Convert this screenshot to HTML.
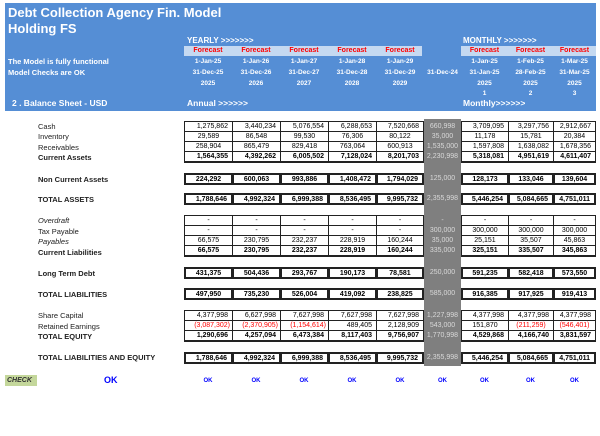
<!DOCTYPE html>
<html><head><meta charset="utf-8"><style>
*{margin:0;padding:0;box-sizing:border-box}
body{width:600px;height:436px;background:#fff;position:relative;overflow:hidden;font-family:"Liberation Sans",Arial,sans-serif}
.a{position:absolute;white-space:nowrap}
.hdr{left:5px;top:3px;width:591px;height:108px;background:#558ed5}
.w{color:#fff;font-weight:bold}
.band{background:#c5d9f1;height:10px;top:46px}
.fc{color:#f00;font-weight:bold;font-size:7px;text-align:center;top:47px}
.hc{color:#fff;font-weight:bold;font-size:6.5px;text-align:center}
.lbl{left:38px;font-size:7.5px;color:#222}
.b{font-weight:bold}
.i{font-style:italic}
.c{border:1px solid #222;font-size:7px;text-align:right;padding-right:4px;line-height:9px;height:11px;font-family:"Liberation Sans",Arial,sans-serif}
.g{background:#7f7f7f;left:424px;width:37px;top:119px;height:247px}
.gc{color:#d9d9d9;border:none;text-align:center;padding:0;line-height:11px}
.ctr{text-align:center;padding:0}
.r{color:#f00}
.ok{color:#00f;font-weight:bold;font-size:6px;text-align:center;top:378px}
</style></head><body>
<div class="a hdr"></div>
<div class="a w" style="left:8px;top:5px;font-size:13px">Debt Collection Agency Fin. Model</div>
<div class="a w" style="left:8px;top:21px;font-size:13px">Holding FS</div>
<div class="a w" style="left:8px;top:57px;font-size:7.5px">The Model is fully functional</div>
<div class="a w" style="left:8px;top:68px;font-size:7.5px">Model Checks are OK</div>
<div class="a w" style="left:12px;top:98px;font-size:8.5px">2 . Balance Sheet - USD</div>
<div class="a w" style="left:187px;top:36px;font-size:8px">YEARLY &gt;&gt;&gt;&gt;&gt;&gt;&gt;</div>
<div class="a w" style="left:187px;top:98px;font-size:8.5px">Annual &gt;&gt;&gt;&gt;&gt;&gt;</div>
<div class="a w" style="left:463px;top:36px;font-size:8px">MONTHLY &gt;&gt;&gt;&gt;&gt;&gt;&gt;</div>
<div class="a w" style="left:463px;top:98px;font-size:8.5px">Monthly&gt;&gt;&gt;&gt;&gt;&gt;</div>
<div class="a band" style="left:184px;width:238px"></div>
<div class="a band" style="left:461px;width:135px"></div>

<div class="a fc" style="left:184px;width:48px">Forecast</div><div class="a fc" style="left:232px;width:48px">Forecast</div><div class="a fc" style="left:280px;width:48px">Forecast</div><div class="a fc" style="left:328px;width:48px">Forecast</div><div class="a fc" style="left:376px;width:48px">Forecast</div>
<div class="a fc" style="left:461px;width:47px">Forecast</div><div class="a fc" style="left:508px;width:45px">Forecast</div><div class="a fc" style="left:553px;width:43px">Forecast</div>

<div class="a hc" style="left:184px;width:48px;top:58px">1-Jan-25</div><div class="a hc" style="left:232px;width:48px;top:58px">1-Jan-26</div><div class="a hc" style="left:280px;width:48px;top:58px">1-Jan-27</div><div class="a hc" style="left:328px;width:48px;top:58px">1-Jan-28</div><div class="a hc" style="left:376px;width:48px;top:58px">1-Jan-29</div>
<div class="a hc" style="left:461px;width:47px;top:58px">1-Jan-25</div><div class="a hc" style="left:508px;width:45px;top:58px">1-Feb-25</div><div class="a hc" style="left:553px;width:43px;top:58px">1-Mar-25</div>
<div class="a hc" style="left:184px;width:48px;top:69px">31-Dec-25</div><div class="a hc" style="left:232px;width:48px;top:69px">31-Dec-26</div><div class="a hc" style="left:280px;width:48px;top:69px">31-Dec-27</div><div class="a hc" style="left:328px;width:48px;top:69px">31-Dec-28</div><div class="a hc" style="left:376px;width:48px;top:69px">31-Dec-29</div><div class="a hc" style="left:420px;width:45px;top:69px">31-Dec-24</div>
<div class="a hc" style="left:461px;width:47px;top:69px">31-Jan-25</div><div class="a hc" style="left:508px;width:45px;top:69px">28-Feb-25</div><div class="a hc" style="left:553px;width:43px;top:69px">31-Mar-25</div>
<div class="a hc" style="left:184px;width:48px;top:80px">2025</div><div class="a hc" style="left:232px;width:48px;top:80px">2026</div><div class="a hc" style="left:280px;width:48px;top:80px">2027</div><div class="a hc" style="left:328px;width:48px;top:80px">2028</div><div class="a hc" style="left:376px;width:48px;top:80px">2029</div>
<div class="a hc" style="left:461px;width:47px;top:80px">2025</div><div class="a hc" style="left:508px;width:45px;top:80px">2025</div><div class="a hc" style="left:553px;width:43px;top:80px">2025</div>
<div class="a hc" style="left:461px;width:47px;top:90px">1</div><div class="a hc" style="left:508px;width:45px;top:90px">2</div><div class="a hc" style="left:553px;width:43px;top:90px">3</div>

<div class="a g"></div>

<div class="a lbl" style="top:122px">Cash</div>
<div class="a lbl" style="top:132px">Inventory</div>
<div class="a lbl" style="top:143px">Receivables</div>
<div class="a lbl b" style="top:153px">Current Assets</div>
<div class="a lbl b" style="top:175px">Non Current Assets</div>
<div class="a lbl b" style="top:195px">TOTAL ASSETS</div>
<div class="a lbl i" style="top:216px">Overdraft</div>
<div class="a lbl" style="top:227px">Tax Payable</div>
<div class="a lbl i" style="top:237px">Payables</div>
<div class="a lbl b" style="top:248px">Current Liabilities</div>
<div class="a lbl b" style="top:269px">Long Term Debt</div>
<div class="a lbl b" style="top:290px">TOTAL LIABILITIES</div>
<div class="a lbl" style="top:311px">Share Capital</div>
<div class="a lbl" style="top:322px">Retained Earnings</div>
<div class="a lbl b" style="top:332px">TOTAL EQUITY</div>
<div class="a lbl b" style="top:353px">TOTAL LIABILITIES AND EQUITY</div>

<div class="a c" style="left:184px;width:49px;top:121px">1,275,862</div><div class="a c" style="left:232px;width:49px;top:121px">3,440,234</div><div class="a c" style="left:280px;width:49px;top:121px">5,076,554</div><div class="a c" style="left:328px;width:49px;top:121px">6,288,653</div><div class="a c" style="left:376px;width:48px;top:121px">7,520,668</div><div class="a c gc" style="left:424px;width:37px;top:121px">660,998</div><div class="a c" style="left:461px;width:48px;top:121px">3,709,095</div><div class="a c" style="left:508px;width:46px;top:121px">3,297,756</div><div class="a c" style="left:553px;width:43px;top:121px">2,912,667</div>
<div class="a c ctr" style="left:184px;width:49px;top:131px">29,589</div><div class="a c ctr" style="left:232px;width:49px;top:131px">86,548</div><div class="a c ctr" style="left:280px;width:49px;top:131px">99,530</div><div class="a c ctr" style="left:328px;width:49px;top:131px">76,306</div><div class="a c ctr" style="left:376px;width:48px;top:131px">80,122</div><div class="a c gc" style="left:424px;width:37px;top:131px">35,000</div><div class="a c ctr" style="left:461px;width:48px;top:131px">11,178</div><div class="a c ctr" style="left:508px;width:46px;top:131px">15,781</div><div class="a c ctr" style="left:553px;width:43px;top:131px">20,384</div>
<div class="a c ctr" style="left:184px;width:49px;top:141px">258,904</div><div class="a c ctr" style="left:232px;width:49px;top:141px">865,479</div><div class="a c ctr" style="left:280px;width:49px;top:141px">829,418</div><div class="a c ctr" style="left:328px;width:49px;top:141px">763,064</div><div class="a c ctr" style="left:376px;width:48px;top:141px">600,913</div><div class="a c gc" style="left:424px;width:37px;top:141px">1,535,000</div><div class="a c" style="left:461px;width:48px;top:141px">1,597,808</div><div class="a c" style="left:508px;width:46px;top:141px">1,638,082</div><div class="a c" style="left:553px;width:43px;top:141px">1,678,356</div>
<div class="a c b" style="left:184px;width:49px;top:151px;border-width:1px 1px 2px 1px;height:12px">1,564,355</div><div class="a c b" style="left:232px;width:49px;top:151px;border-width:1px 1px 2px 1px;height:12px">4,392,262</div><div class="a c b" style="left:280px;width:49px;top:151px;border-width:1px 1px 2px 1px;height:12px">6,005,502</div><div class="a c b" style="left:328px;width:49px;top:151px;border-width:1px 1px 2px 1px;height:12px">7,128,024</div><div class="a c b" style="left:376px;width:48px;top:151px;border-width:1px 1px 2px 1px;height:12px">8,201,703</div><div class="a c gc" style="left:424px;width:37px;top:151px">2,230,998</div><div class="a c b" style="left:461px;width:48px;top:151px;border-width:1px 1px 2px 1px;height:12px">5,318,081</div><div class="a c b" style="left:508px;width:46px;top:151px;border-width:1px 1px 2px 1px;height:12px">4,951,619</div><div class="a c b" style="left:553px;width:43px;top:151px;border-width:1px 1px 2px 1px;height:12px">4,611,407</div>
<div class="a c b ctr" style="left:184px;width:49px;top:173px;border-width:2px;height:12px">224,292</div><div class="a c b ctr" style="left:232px;width:49px;top:173px;border-width:2px;height:12px">600,063</div><div class="a c b ctr" style="left:280px;width:49px;top:173px;border-width:2px;height:12px">993,886</div><div class="a c b" style="left:328px;width:49px;top:173px;border-width:2px;height:12px">1,408,472</div><div class="a c b" style="left:376px;width:48px;top:173px;border-width:2px;height:12px">1,794,029</div><div class="a c gc" style="left:424px;width:37px;top:173px">125,000</div><div class="a c b ctr" style="left:461px;width:48px;top:173px;border-width:2px;height:12px">128,173</div><div class="a c b ctr" style="left:508px;width:46px;top:173px;border-width:2px;height:12px">133,046</div><div class="a c b ctr" style="left:553px;width:43px;top:173px;border-width:2px;height:12px">139,604</div>
<div class="a c b" style="left:184px;width:49px;top:193px;border-width:2px;height:12px">1,788,646</div><div class="a c b" style="left:232px;width:49px;top:193px;border-width:2px;height:12px">4,992,324</div><div class="a c b" style="left:280px;width:49px;top:193px;border-width:2px;height:12px">6,999,388</div><div class="a c b" style="left:328px;width:49px;top:193px;border-width:2px;height:12px">8,536,495</div><div class="a c b" style="left:376px;width:48px;top:193px;border-width:2px;height:12px">9,995,732</div><div class="a c gc" style="left:424px;width:37px;top:193px">2,355,998</div><div class="a c b" style="left:461px;width:48px;top:193px;border-width:2px;height:12px">5,446,254</div><div class="a c b" style="left:508px;width:46px;top:193px;border-width:2px;height:12px">5,084,665</div><div class="a c b" style="left:553px;width:43px;top:193px;border-width:2px;height:12px">4,751,011</div>
<div class="a c ctr" style="left:184px;width:49px;top:215px">-</div><div class="a c ctr" style="left:232px;width:49px;top:215px">-</div><div class="a c ctr" style="left:280px;width:49px;top:215px">-</div><div class="a c ctr" style="left:328px;width:49px;top:215px">-</div><div class="a c ctr" style="left:376px;width:48px;top:215px">-</div><div class="a c gc" style="left:424px;width:37px;top:215px">-</div><div class="a c ctr" style="left:461px;width:48px;top:215px">-</div><div class="a c ctr" style="left:508px;width:46px;top:215px">-</div><div class="a c ctr" style="left:553px;width:43px;top:215px">-</div>
<div class="a c ctr" style="left:184px;width:49px;top:225px">-</div><div class="a c ctr" style="left:232px;width:49px;top:225px">-</div><div class="a c ctr" style="left:280px;width:49px;top:225px">-</div><div class="a c ctr" style="left:328px;width:49px;top:225px">-</div><div class="a c ctr" style="left:376px;width:48px;top:225px">-</div><div class="a c gc" style="left:424px;width:37px;top:225px">300,000</div><div class="a c ctr" style="left:461px;width:48px;top:225px">300,000</div><div class="a c ctr" style="left:508px;width:46px;top:225px">300,000</div><div class="a c ctr" style="left:553px;width:43px;top:225px">300,000</div>
<div class="a c ctr" style="left:184px;width:49px;top:235px">66,575</div><div class="a c ctr" style="left:232px;width:49px;top:235px">230,795</div><div class="a c ctr" style="left:280px;width:49px;top:235px">232,237</div><div class="a c ctr" style="left:328px;width:49px;top:235px">228,919</div><div class="a c ctr" style="left:376px;width:48px;top:235px">160,244</div><div class="a c gc" style="left:424px;width:37px;top:235px">35,000</div><div class="a c ctr" style="left:461px;width:48px;top:235px">25,151</div><div class="a c ctr" style="left:508px;width:46px;top:235px">35,507</div><div class="a c ctr" style="left:553px;width:43px;top:235px">45,863</div>
<div class="a c b ctr" style="left:184px;width:49px;top:245px;border-width:1px 1px 2px 1px;height:12px">66,575</div><div class="a c b ctr" style="left:232px;width:49px;top:245px;border-width:1px 1px 2px 1px;height:12px">230,795</div><div class="a c b ctr" style="left:280px;width:49px;top:245px;border-width:1px 1px 2px 1px;height:12px">232,237</div><div class="a c b ctr" style="left:328px;width:49px;top:245px;border-width:1px 1px 2px 1px;height:12px">228,919</div><div class="a c b ctr" style="left:376px;width:48px;top:245px;border-width:1px 1px 2px 1px;height:12px">160,244</div><div class="a c gc" style="left:424px;width:37px;top:245px">335,000</div><div class="a c b ctr" style="left:461px;width:48px;top:245px;border-width:1px 1px 2px 1px;height:12px">325,151</div><div class="a c b ctr" style="left:508px;width:46px;top:245px;border-width:1px 1px 2px 1px;height:12px">335,507</div><div class="a c b ctr" style="left:553px;width:43px;top:245px;border-width:1px 1px 2px 1px;height:12px">345,863</div>
<div class="a c b ctr" style="left:184px;width:49px;top:267px;border-width:2px;height:12px">431,375</div><div class="a c b ctr" style="left:232px;width:49px;top:267px;border-width:2px;height:12px">504,436</div><div class="a c b ctr" style="left:280px;width:49px;top:267px;border-width:2px;height:12px">293,767</div><div class="a c b ctr" style="left:328px;width:49px;top:267px;border-width:2px;height:12px">190,173</div><div class="a c b ctr" style="left:376px;width:48px;top:267px;border-width:2px;height:12px">78,581</div><div class="a c gc" style="left:424px;width:37px;top:267px">250,000</div><div class="a c b ctr" style="left:461px;width:48px;top:267px;border-width:2px;height:12px">591,235</div><div class="a c b ctr" style="left:508px;width:46px;top:267px;border-width:2px;height:12px">582,418</div><div class="a c b ctr" style="left:553px;width:43px;top:267px;border-width:2px;height:12px">573,550</div>
<div class="a c b ctr" style="left:184px;width:49px;top:288px;border-width:2px;height:12px">497,950</div><div class="a c b ctr" style="left:232px;width:49px;top:288px;border-width:2px;height:12px">735,230</div><div class="a c b ctr" style="left:280px;width:49px;top:288px;border-width:2px;height:12px">526,004</div><div class="a c b ctr" style="left:328px;width:49px;top:288px;border-width:2px;height:12px">419,092</div><div class="a c b ctr" style="left:376px;width:48px;top:288px;border-width:2px;height:12px">238,825</div><div class="a c gc" style="left:424px;width:37px;top:288px">585,000</div><div class="a c b ctr" style="left:461px;width:48px;top:288px;border-width:2px;height:12px">916,385</div><div class="a c b ctr" style="left:508px;width:46px;top:288px;border-width:2px;height:12px">917,925</div><div class="a c b ctr" style="left:553px;width:43px;top:288px;border-width:2px;height:12px">919,413</div>
<div class="a c" style="left:184px;width:49px;top:310px">4,377,998</div><div class="a c" style="left:232px;width:49px;top:310px">6,627,998</div><div class="a c" style="left:280px;width:49px;top:310px">7,627,998</div><div class="a c" style="left:328px;width:49px;top:310px">7,627,998</div><div class="a c" style="left:376px;width:48px;top:310px">7,627,998</div><div class="a c gc" style="left:424px;width:37px;top:310px">1,227,998</div><div class="a c" style="left:461px;width:48px;top:310px">4,377,998</div><div class="a c" style="left:508px;width:46px;top:310px">4,377,998</div><div class="a c" style="left:553px;width:43px;top:310px">4,377,998</div>
<div class="a c r" style="left:184px;width:49px;top:320px;padding-right:2px">(3,087,302)</div><div class="a c r" style="left:232px;width:49px;top:320px;padding-right:2px">(2,370,905)</div><div class="a c r" style="left:280px;width:49px;top:320px;padding-right:2px">(1,154,614)</div><div class="a c" style="left:328px;width:49px;top:320px">489,405</div><div class="a c" style="left:376px;width:48px;top:320px">2,128,909</div><div class="a c gc" style="left:424px;width:37px;top:320px">543,000</div><div class="a c ctr" style="left:461px;width:48px;top:320px">151,870</div><div class="a c r ctr" style="left:508px;width:46px;top:320px">(211,259)</div><div class="a c r ctr" style="left:553px;width:43px;top:320px">(546,401)</div>
<div class="a c b" style="left:184px;width:49px;top:330px;border-width:1px 1px 2px 1px;height:12px">1,290,696</div><div class="a c b" style="left:232px;width:49px;top:330px;border-width:1px 1px 2px 1px;height:12px">4,257,094</div><div class="a c b" style="left:280px;width:49px;top:330px;border-width:1px 1px 2px 1px;height:12px">6,473,384</div><div class="a c b" style="left:328px;width:49px;top:330px;border-width:1px 1px 2px 1px;height:12px">8,117,403</div><div class="a c b" style="left:376px;width:48px;top:330px;border-width:1px 1px 2px 1px;height:12px">9,756,907</div><div class="a c gc" style="left:424px;width:37px;top:330px">1,770,998</div><div class="a c b" style="left:461px;width:48px;top:330px;border-width:1px 1px 2px 1px;height:12px">4,529,868</div><div class="a c b" style="left:508px;width:46px;top:330px;border-width:1px 1px 2px 1px;height:12px">4,166,740</div><div class="a c b" style="left:553px;width:43px;top:330px;border-width:1px 1px 2px 1px;height:12px">3,831,597</div>
<div class="a c b" style="left:184px;width:49px;top:352px;border-width:2px;height:12px">1,788,646</div><div class="a c b" style="left:232px;width:49px;top:352px;border-width:2px;height:12px">4,992,324</div><div class="a c b" style="left:280px;width:49px;top:352px;border-width:2px;height:12px">6,999,388</div><div class="a c b" style="left:328px;width:49px;top:352px;border-width:2px;height:12px">8,536,495</div><div class="a c b" style="left:376px;width:48px;top:352px;border-width:2px;height:12px">9,995,732</div><div class="a c gc" style="left:424px;width:37px;top:352px">2,355,998</div><div class="a c b" style="left:461px;width:48px;top:352px;border-width:2px;height:12px">5,446,254</div><div class="a c b" style="left:508px;width:46px;top:352px;border-width:2px;height:12px">5,084,665</div><div class="a c b" style="left:553px;width:43px;top:352px;border-width:2px;height:12px">4,751,011</div>

<div class="a" style="left:5px;top:375px;width:32px;height:11px;background:#c4d79b;font-size:7px;font-style:italic;font-weight:bold;color:#333;padding-left:2px;line-height:11px">CHECK</div>
<div class="a" style="left:104px;top:375px;font-size:9px;font-weight:bold;color:#00f">OK</div>
<div class="a ok" style="left:184px;width:48px">OK</div><div class="a ok" style="left:232px;width:48px">OK</div><div class="a ok" style="left:280px;width:48px">OK</div><div class="a ok" style="left:328px;width:48px">OK</div><div class="a ok" style="left:376px;width:48px">OK</div><div class="a ok" style="left:424px;width:37px">OK</div><div class="a ok" style="left:461px;width:47px">OK</div><div class="a ok" style="left:508px;width:45px">OK</div><div class="a ok" style="left:553px;width:43px">OK</div>
</body></html>
